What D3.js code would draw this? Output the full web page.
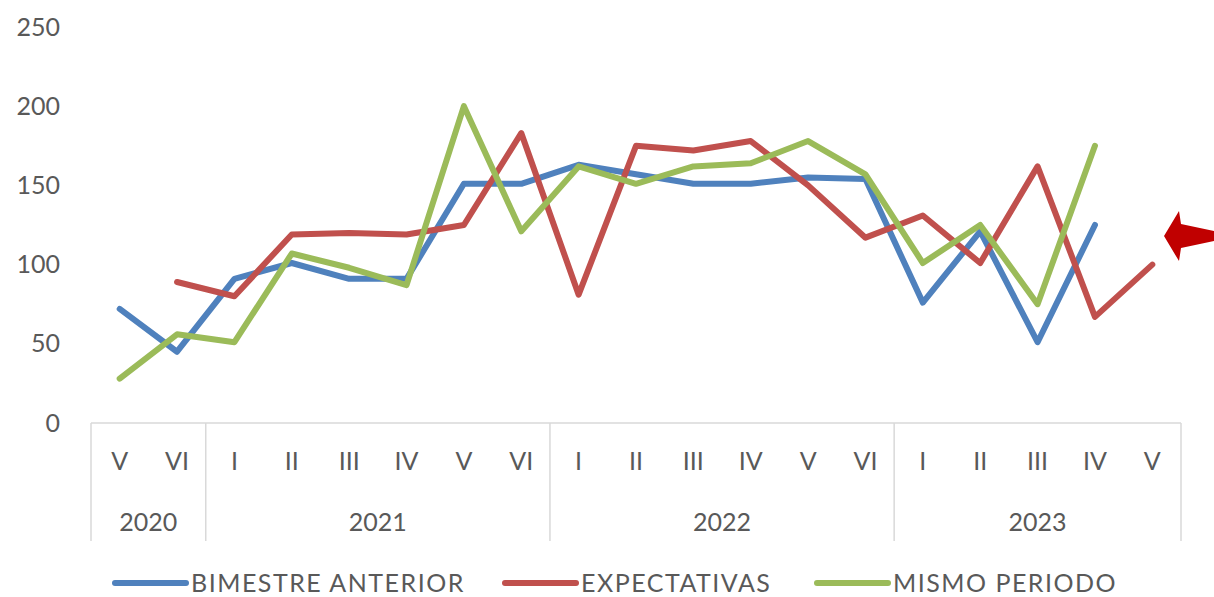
<script src="https://d3js.org/d3.v7.min.js"></script>

<style>
  body { margin: 0; background: #fff; }
  text { font-family: Lato, 'Open Sans', sans-serif; fill: #595959; }
  .axis-line { stroke: #d9d9d9; stroke-width: 1.5; fill: none; }
  .series { fill: none; stroke-width: 6; stroke-linecap: round; stroke-linejoin: round; }
</style>

<svg id="chart"></svg>

<script>
const WIDTH  = 1214;
const HEIGHT = 597;
const MARGIN = { top: 27, right: 33, bottom: 174, left: 91 };
const INNER_WIDTH  = WIDTH - MARGIN.left - MARGIN.right;
const INNER_HEIGHT = HEIGHT - MARGIN.top - MARGIN.bottom;

// data
const periods = ['V','VI','I','II','III','IV','V','VI','I','II','III','IV','V','VI','I','II','III','IV','V'];
const years   = ['2020','2020','2021','2021','2021','2021','2021','2021','2022','2022','2022','2022','2022','2022','2023','2023','2023','2023','2023'];
const yTicks  = [0, 50, 100, 150, 200, 250];

const bimestreAnterior = [72, 45, 91, 101, 91, 91, 151, 151, 163, 157, 151, 151, 155, 154, 76, 121, 51, 125, null];
const expectativas     = [null, 89, 80, 119, 120, 119, 125, 183, 81, 175, 172, 178, 150, 117, 131, 101, 162, 67, 100];
const mismoPeriodo     = [28, 56, 51, 107, 98, 87, 200, 121, 162, 151, 162, 164, 178, 157, 101, 125, 75, 175, null];

const seriesNames  = ['BIMESTRE ANTERIOR', 'EXPECTATIVAS', 'MISMO PERIODO'];
const seriesColors = ['#4f81bd', '#c0504d', '#9bbb59'];
const seriesData   = [bimestreAnterior, expectativas, mismoPeriodo];

const arrowValue = 118;

const svg = d3.select('#chart')
  .attr('width', WIDTH)
  .attr('height', HEIGHT);

const g = svg.append('g')
  .attr('transform', 'translate(' + MARGIN.left + ',' + MARGIN.top + ')');

const x = d3.scaleBand()
  .domain(d3.range(periods.length))
  .range([0, 1090]);

const y = d3.scaleLinear()
  .domain([0, 250])
  .range([396, 0]);

// y axis labels
const yAxis = d3.axisLeft(y)
  .tickValues(yTicks)
  .tickSize(0)
  .tickPadding(31);

g.append('g')
  .call(yAxis)
  .call(a => a.select('.domain').remove())
  .selectAll('text')
    .style('font-size', '25px')
    .attr('fill', '#595959')
    .attr('font-family', 'Lato');

// category axis box
const y0 = y(0);
const axisBottom = y0 + 118;

g.append('line')
  .attr('class', 'axis-line')
  .attr('x1', 0).attr('x2', x.range()[1])
  .attr('y1', y0).attr('y2', y0);

// group boundaries
const groups = d3.groups(d3.range(years.length), i => years[i]);
const bounds = [0];
groups.forEach(([yr, idx]) => bounds.push(x(idx[idx.length - 1]) + x.bandwidth()));

g.selectAll('.sep')
  .data(bounds)
  .enter().append('line')
    .attr('class', 'axis-line')
    .attr('x1', d => d).attr('x2', d => d)
    .attr('y1', y0).attr('y2', axisBottom);

g.selectAll('.period')
  .data(periods)
  .enter().append('text')
    .attr('x', (d, i) => x(i) + x.bandwidth() / 2)
    .attr('y', y0 + 47)
    .attr('text-anchor', 'middle')
    .style('font-size', '25px')
    .text(d => d);

g.selectAll('.year')
  .data(groups)
  .enter().append('text')
    .attr('x', d => (x(d[1][0]) + x(d[1][d[1].length - 1]) + x.bandwidth()) / 2)
    .attr('y', y0 + 108)
    .attr('text-anchor', 'middle')
    .style('font-size', '25px')
    .text(d => d[0]);

// lines
const line = d3.line()
  .defined(d => d != null)
  .x((d, i) => x(i) + x.bandwidth() / 2)
  .y(d => y(d));

g.selectAll('.series')
  .data(seriesData)
  .enter().append('path')
    .attr('class', 'series')
    .attr('stroke', (d, i) => seriesColors[i])
    .attr('d', line);

// arrow annotation
const ax = x.range()[1] - 17;
const ay = y(arrowValue);
g.append('path')
  .attr('d', 'M' + ax + ',' + ay +
    ' l15,-25 l2,13 l33,7 l0,10 l-33,7 l-2,13 Z')
  .attr('fill', '#c00000');

// legend
const legendX = [115, 505, 817];
const legend = svg.append('g')
  .attr('transform', 'translate(0,583)');

const items = legend.selectAll('.item')
  .data(seriesNames)
  .enter().append('g')
    .attr('transform', (d, i) => 'translate(' + legendX[i] + ',0)');

items.append('line')
  .attr('x1', 0).attr('x2', 71)
  .attr('y1', 0).attr('y2', 0)
  .attr('stroke', (d, i) => seriesColors[i])
  .attr('stroke-width', 6)
  .attr('stroke-linecap', 'round');

items.append('text')
  .attr('x', 76)
  .attr('y', 9)
  .style('font-size', '25px')
  .style('letter-spacing', '1.5px')
  .text(d => d);
</script>
